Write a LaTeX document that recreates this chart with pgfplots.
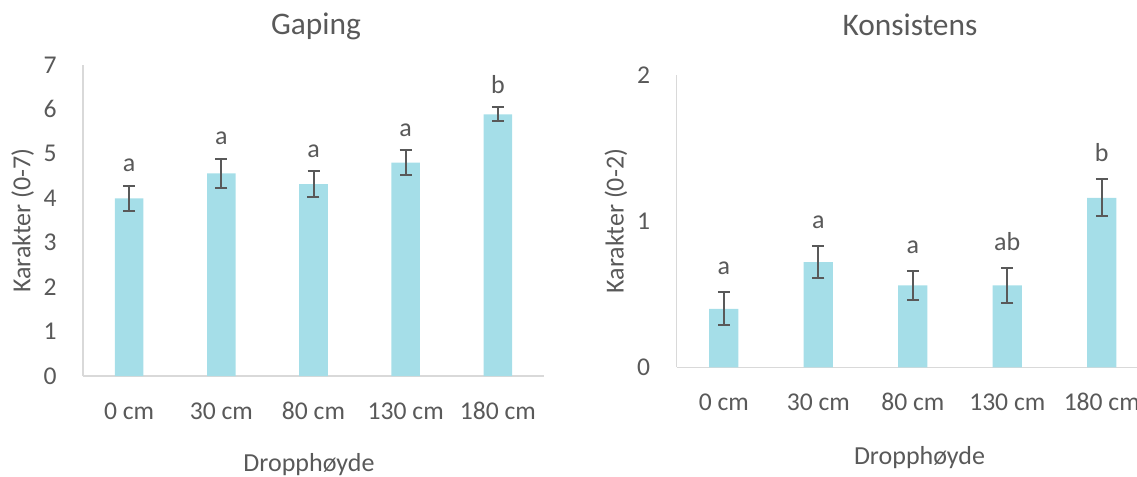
\documentclass[border=0pt]{standalone}
\usepackage{pgfplots}
\pgfplotsset{compat=1.18}
\usepackage{fontspec}
\setmainfont{Carlito}
\definecolor{barc}{HTML}{A5DEE8}
\definecolor{errc}{HTML}{595959}
\definecolor{axc}{HTML}{D9D9D9}
\definecolor{txt}{HTML}{595959}
\pgfplotsset{
 mystyle/.style={
  scale only axis, anchor=south west,
  xmin=-0.5, xmax=4.5, ymin=0,
  axis x line*=bottom, axis y line*=left,
  axis line style={draw=axc, line width=0.7pt},
  major tick length=0pt,
  xtick={0,...,4},
  xticklabels={0 cm,30 cm,80 cm,130 cm,180 cm},
  tick label style={font=\fontsize{12.8}{15}\selectfont, text=txt, inner sep=0pt},
  xticklabel style={anchor=base, yshift=-21.6pt},
  yticklabel style={anchor=east, xshift=-13pt},
  /pgf/number format/assume math mode=true,
  every axis label/.style={font=\fontsize{13}{15}\selectfont, text=txt, inner sep=0pt},
  every axis y label/.style={rotate=90, anchor=center},
  every axis x label/.style={anchor=base},
  every axis title/.style={font=\fontsize{15.7}{18}\selectfont, text=txt, inner sep=0pt, anchor=base},
  clip=false,
 },
 mybars/.style={ybar, bar width=0.31, fill=barc, draw=none,
  error bars/.cd, y dir=both, y explicit,
  error bar style={errc, line width=1pt},
  error mark options={rotate=90, mark size=3pt, line width=1pt, errc}},
 myletters/.style={only marks, mark=*, mark size=0pt, mark options={draw=none, fill=none},
  nodes near coords, point meta=explicit symbolic,
  every node near coord/.append style={anchor=base, yshift=#1, inner sep=0pt,
   font=\fontsize{13}{15}\selectfont, text=txt}},
}
\begin{document}
\begin{tikzpicture}
\path[use as bounding box] (0,0) rectangle (568.5pt,238.5pt);
\begin{axis}[mystyle, at={(41.5pt,50.5pt)}, width=230.5pt, height=155.5pt,
  ymax=7, ytick={0,1,...,7},
  title={Gaping}, title style={at={(axis description cs:0.5054,1.0965)}},
  xlabel={Dropphøyde}, xlabel style={at={(axis description cs:0.4902,-0.3077)}},
  ylabel={Karakter (0-7)}, ylabel style={at={(axis description cs:-0.1308,0.5)}}]
\addplot[mybars] table[x=x, y=y, y error=e] {
x y e
0 4.00 0.28
1 4.56 0.33
2 4.32 0.29
3 4.80 0.28
4 5.89 0.16
};
\addplot[myletters=7pt] coordinates {(0,4.28)[a] (1,4.89)[a] (2,4.61)[a] (3,5.08)[a] (4,6.05)[b]};
\end{axis}
\begin{axis}[mystyle, at={(338.3pt,54.85pt)}, width=236.2pt, height=146.15pt,
  ymax=2, ytick={0,1,2},
  title={Konsistens}, title style={at={(axis description cs:0.494,1.1368)}},
  xlabel={Dropphøyde}, xlabel style={at={(axis description cs:0.5142,-0.3342)}},
  ylabel={Karakter (0-2)}, ylabel style={at={(axis description cs:-0.1283,0.5)}}]
\addplot[mybars] table[x=x, y=y, y error=e] {
x y e
0 0.40 0.113
1 0.72 0.110
2 0.56 0.100
3 0.56 0.117
4 1.16 0.127
};
\addplot[myletters=8.8pt] coordinates {(0,0.513)[a] (1,0.830)[a] (2,0.660)[a] (3,0.677)[ab] (4,1.287)[b]};
\end{axis}
\end{tikzpicture}
\end{document}
